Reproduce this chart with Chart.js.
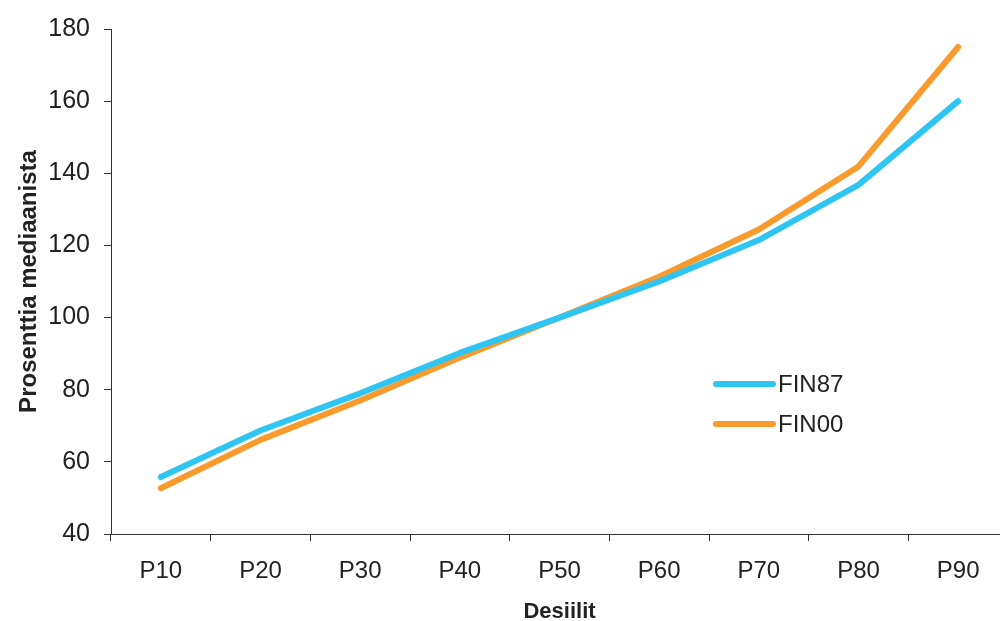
<!DOCTYPE html>
<html>
<head>
<meta charset="utf-8">
<script src="https://cdn.jsdelivr.net/npm/chart.js@4/dist/chart.umd.min.js"></script>
<style>
  html, body { margin: 0; padding: 0; background: #fff; overflow: hidden; }
  #wrap { width: 1000px; height: 621px; overflow: hidden; }
  canvas { display: block; }
</style>
</head>
<body>
<div id="wrap"><canvas id="c" width="1010" height="621"></canvas></div>
<script>
const categories = ['P10', 'P20', 'P30', 'P40', 'P50', 'P60', 'P70', 'P80', 'P90'];
const fin87 = [55.8, 68.7, 79, 90.2, 100, 110, 121.5, 136.8, 160];
const fin00 = [52.7, 66.1, 77, 88.9, 100, 111.3, 124.4, 141.9, 175];
const seriesNames = ['FIN87', 'FIN00'];
const yTitle = 'Prosenttia mediaanista';
const xTitle = 'Desiilit';

const BLUE = '#2EC5F3';
const ORANGE = '#F89A2C';
const AXIS = '#333333';

Chart.defaults.font.family = '"Liberation Sans", Arial, sans-serif';
Chart.defaults.color = '#222222';

const legendPlugin = {
  id: 'innerLegend',
  afterDraw(chart) {
    const ctx = chart.ctx;
    const x0 = 716, x1 = 773, tx = 778;
    const ys = [384, 424];
    ctx.save();
    chart.data.datasets.forEach((ds, i) => {
      ctx.strokeStyle = ds.borderColor;
      ctx.lineWidth = 6;
      ctx.lineCap = 'round';
      ctx.beginPath();
      ctx.moveTo(x0, ys[i]);
      ctx.lineTo(x1, ys[i]);
      ctx.stroke();
      ctx.fillStyle = '#222222';
      ctx.font = '24px "Liberation Sans", Arial, sans-serif';
      ctx.textBaseline = 'middle';
      ctx.textAlign = 'left';
      ctx.fillText(ds.label, tx, ys[i] + 1);
    });
    ctx.restore();
  }
};

new Chart(document.getElementById('c'), {
  type: 'line',
  data: {
    labels: categories,
    datasets: [
      { label: seriesNames[0], data: fin87, borderColor: BLUE, backgroundColor: BLUE },
      { label: seriesNames[1], data: fin00, borderColor: ORANGE, backgroundColor: ORANGE }
    ]
  },
  options: {
    responsive: false,
    animation: false,
    devicePixelRatio: 1,
    layout: { padding: { top: 27, right: 2, left: 0, bottom: 0 } },
    elements: {
      line: { borderWidth: 6, tension: 0, borderCapStyle: 'round', borderJoinStyle: 'round' },
      point: { radius: 0, hoverRadius: 0 }
    },
    plugins: { legend: { display: false }, tooltip: { enabled: false } },
    scales: {
      x: {
        type: 'category',
        offset: true,
        afterFit(s) { s.height = 87; },
        grid: { offset: true, drawOnChartArea: false, drawTicks: true, tickLength: 7, color: AXIS },
        border: { display: true, color: AXIS, width: 1 },
        ticks: { font: { size: 24 }, color: '#222222', padding: 16, maxRotation: 0 },
        title: { display: true, text: xTitle, font: { size: 22, weight: 'bold', lineHeight: 0.8 }, color: '#222222', padding: { top: 0, bottom: 0 } }
      },
      y: {
        min: 40, max: 180,
        afterFit(s) { s.width = 111; },
        grid: { drawOnChartArea: false, drawTicks: true, tickLength: 7, color: AXIS },
        border: { display: true, color: AXIS, width: 1 },
        ticks: { stepSize: 20, font: { size: 25 }, color: '#222222', padding: 14 },
        title: { display: true, text: yTitle, font: { size: 24, weight: 'bold', lineHeight: 1 }, color: '#222222', padding: { top: 17, bottom: 0 } }
      }
    }
  },
  plugins: [legendPlugin]
});
</script>
</body>
</html>
